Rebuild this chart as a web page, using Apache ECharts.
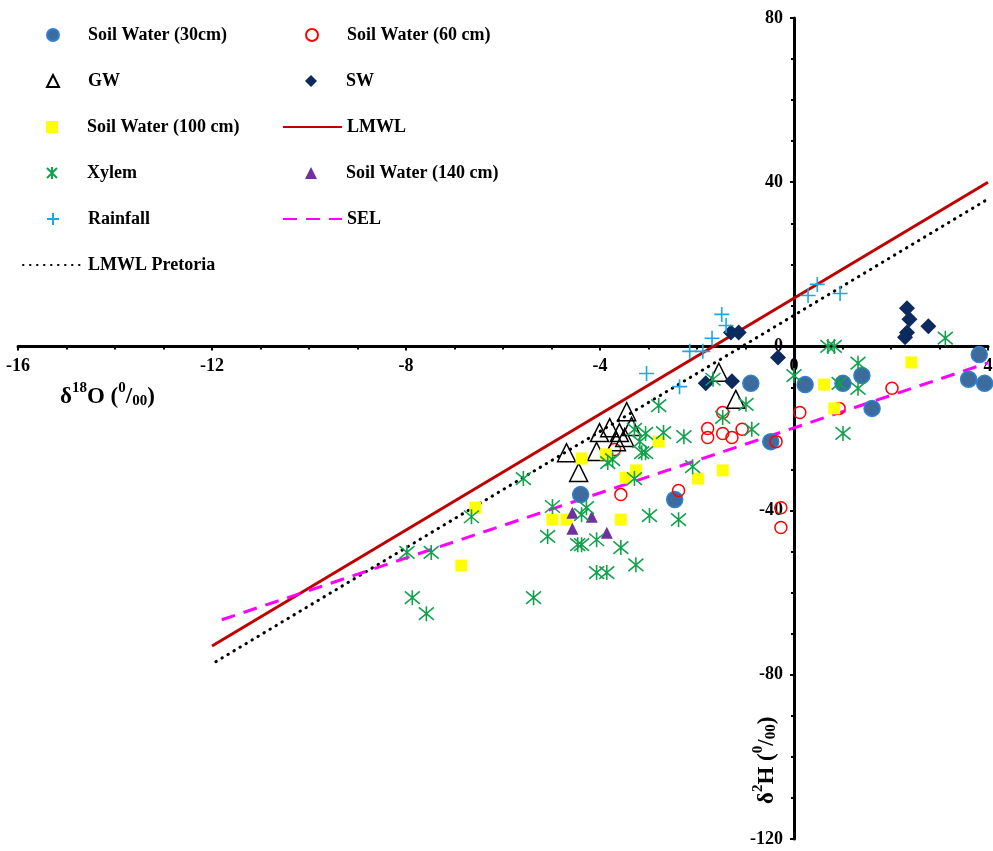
<!DOCTYPE html>
<html><head><meta charset="utf-8">
<script src="https://cdn.jsdelivr.net/npm/echarts@6/dist/echarts.min.js"></script>
<style>html,body{margin:0;padding:0;background:#fff}#c{width:993px;height:851px}</style>
</head><body><div id="c"></div>
<script>
// Data (δ18O, δ2H)
const soil30 = [[-4.40,-36.1],[-2.46,-37.3],[-0.89,-9.0],[-0.48,-23.2],[0.23,-9.3],[1.01,-9.0],[1.40,-7.1],[1.61,-15.1],[3.60,-8.0],[3.82,-2.0],[3.93,-9.0]];
const soil60 = [[-3.57,-36.1],[-2.38,-35.1],[-3.70,-25.1],[-1.47,-16.1],[-1.78,-20.0],[-1.78,-22.2],[-1.47,-21.2],[-1.28,-22.2],[-1.07,-20.2],[-0.37,-23.2],[0.12,-16.1],[0.93,-15.1],[2.02,-10.2],[-0.27,-39.3],[-0.27,-44.1]];
const gw = [[-3.45,-15.9],[-3.80,-19.8],[-4.01,-21.0],[-4.69,-25.9],[-4.44,-30.7],[-4.07,-25.6],[-3.60,-21.0],[-3.66,-23.2],[-3.49,-22.2],[-3.35,-19.5],[-1.55,-6.3],[-1.20,-12.9]];
const sw = [[2.33,9.3],[2.38,6.6],[2.33,3.4],[2.29,2.2],[2.77,4.9],[-1.30,3.4],[-1.14,3.4],[-0.33,-2.7],[-1.82,-9.0],[-1.28,-8.5]];
const soil100 = [[-6.57,-39.3],[-6.86,-53.4],[-4.98,-42.2],[-4.69,-42.2],[-4.38,-27.3],[-3.88,-26.3],[-3.57,-42.2],[-3.47,-32.0],[-3.26,-30.2],[-2.79,-23.2],[-1.98,-32.2],[-1.47,-30.2],[0.62,-9.3],[0.83,-15.1],[2.42,-3.9]];
const xylem = [[-7.98,-50.2],[-7.48,-50.2],[-7.87,-61.2],[-7.58,-65.1],[-6.65,-41.5],[-5.58,-32.2],[-5.37,-61.2],[-4.98,-39.0],[-5.08,-46.3],[-4.38,-41.0],[-4.28,-39.3],[-4.46,-48.3],[-4.38,-48.3],[-4.07,-47.1],[-3.57,-49.0],[-3.26,-53.2],[-4.07,-55.1],[-3.86,-55.1],[-2.98,-41.2],[-2.38,-42.2],[-3.84,-28.3],[-3.74,-27.6],[-3.29,-32.2],[-3.14,-25.9],[-3.06,-25.9],[-3.18,-23.2],[-3.29,-20.2],[-3.06,-21.2],[-2.69,-21.0],[-2.27,-22.0],[-2.79,-14.4],[-2.09,-29.3],[-1.67,-8.0],[-1.47,-17.3],[-0.99,-14.1],[-0.87,-20.2],[0.0,-7.1],[0.70,0.0],[0.83,0.0],[1.32,-4.1],[0.93,-9.0],[1.32,-10.2],[1.01,-21.2],[3.12,2.0]];
const soil140 = [[-4.57,-40.5],[-4.17,-41.5],[-4.57,-44.4],[-3.86,-45.4]];
const rainfall = [[-1.49,7.8],[-1.40,5.1],[-1.69,2.0],[-2.15,-1.2],[-1.88,-1.2],[0.29,12.4],[0.48,15.1],[0.95,12.9],[-3.04,-6.6],[-2.36,-9.8]];
const lmwl = [[-12,-73],[4,40]];
const pretoria = [[-11.92,-76.8],[4,35.9]];
const sel = [[-11.8,-66.6],[4,-4]];
const xTicks = [-16,-12,-8,-4,0,4];
const yTicks = [-120,-80,-40,0,40,80];

const FONT = 'Liberation Serif';
const W = 993, H = 851;
const G = {left: 18, right: 5, top: 18, bottom: 12};
const gw_px = W - G.left - G.right, gh_px = H - G.top - G.bottom;
const xMin = xTicks[0], xMax = xTicks[xTicks.length-1];
const yMin = yTicks[0], yMax = yTicks[yTicks.length-1];
// shift axes so they cross at the origin
const xAxisOffset = -gh_px * (0 - yMin) / (yMax - yMin);
const yAxisOffset = -gw_px * (0 - xMin) / (xMax - xMin);

const chart = echarts.init(document.getElementById('c'));
const axisCommon = {
  type: 'value',
  splitLine: {show: false},
  axisLine: {onZero: false, lineStyle: {color: '#000', width: 3}},
  axisTick: {show: true, length: 4, lineStyle: {color: '#000', width: 2}},
  minorTick: {show: true, splitNumber: 4, length: 3, lineStyle: {color: '#000', width: 2}},
  axisLabel: {color: '#000', fontFamily: FONT, fontWeight: 'bold', fontSize: 18, margin: 11}
};
const asterisk = 'path://M0,0L10,10M10,0L0,10M5,-1L5,11';
const plus = 'path://M5,0L5,10M0,5L10,5';
const legendText = {color: '#000', fontFamily: FONT, fontWeight: 'bold', fontSize: 18};
function lg(name, left, row, w) {
  return {left: left, top: 26 + 46 * row, padding: 0, itemWidth: w, itemHeight: 12, selectedMode: false,
    textStyle: Object.assign({}, legendText, w < 20 ? {padding: [0, 0, 0, 24]} : {}), data: [name]};
}
const nameRich = {
  n: {fontFamily: FONT, fontWeight: 'bold', fontSize: 23, fill: '#000', lineHeight: 28, verticalAlign: 'bottom'},
  sup: {fontFamily: FONT, fontWeight: 'bold', fontSize: 15, fill: '#000', lineHeight: 28, verticalAlign: 'top'},
  sub: {fontFamily: FONT, fontWeight: 'bold', fontSize: 15, fill: '#000', lineHeight: 23, verticalAlign: 'bottom'}
};
const hideSym = {color: 'rgba(0,0,0,0)', borderWidth: 0};

chart.setOption({
  animation: false,
  backgroundColor: '#fff',
  grid: {left: G.left, right: G.right, top: G.top, bottom: G.bottom, containLabel: false, outerBoundsMode: 'none'},
  xAxis: Object.assign({}, axisCommon, {min: xMin, max: xMax, interval: 4, position: 'bottom', offset: xAxisOffset}),
  yAxis: Object.assign({}, axisCommon, {min: yMin, max: yMax, interval: 40, position: 'left', offset: yAxisOffset}),
  legend: [
    lg('Soil Water (30cm)', 46, 0, 12),
    lg('GW', 46, 1, 12),
    lg('Soil Water (100 cm)', 46, 2, 12),
    lg('Xylem', 46, 3, 12),
    lg('Rainfall', 46, 4, 12),
    lg('LMWL Pretoria', 22, 5, 60),
    lg('Soil Water (60 cm)', 305, 0, 12),
    lg('SW', 305, 1, 12),
    lg('LMWL', 282, 2, 59),
    lg('Soil Water (140 cm)', 305, 3, 12),
    lg('SEL', 282, 4, 59)
  ],
  graphic: [
    {type: 'text', left: 60, top: 381, style: {rich: nameRich,
      text: '{n|δ}{sup|18}{n|O (}{sup|0}{n|/}{sub|00}{n|)}'}},
    {type: 'text', x: 751, y: 804, rotation: Math.PI / 2, style: {rich: nameRich,
      text: '{n|δ}{sup|2}{n|H (}{sup|0}{n|/}{sub|00}{n|)}'}}
  ],
  series: [
    {name: 'LMWL', type: 'line', data: lmwl, symbol: 'none', z: 1, lineStyle: {color: '#C00000', width: 3}, itemStyle: hideSym},
    {name: 'LMWL Pretoria', type: 'line', data: pretoria, symbol: 'none', z: 1, lineStyle: {color: '#000', width: 3, type: [0.5, 6.5], cap: 'round'}, itemStyle: hideSym},
    {name: 'SEL', type: 'line', data: sel, symbol: 'none', z: 1, lineStyle: {color: '#FF00FF', width: 3, type: [14, 9]}, itemStyle: hideSym},
    {name: 'Soil Water (30cm)', type: 'scatter', data: soil30, symbol: 'circle', symbolSize: 16, z: 3,
     itemStyle: {color: '#3D6B9E', borderColor: '#2F80D0', borderWidth: 1.5, opacity: 1}},
    {name: 'Soil Water (60 cm)', type: 'scatter', data: soil60, symbol: 'circle', symbolSize: 12, z: 3,
     itemStyle: {color: 'rgba(255,255,255,0)', borderColor: '#FF0000', borderWidth: 1.5, opacity: 1}},
    {name: 'GW', type: 'scatter', data: gw, symbol: 'triangle', symbolSize: 18, z: 3,
     itemStyle: {color: 'rgba(255,255,255,0)', borderColor: '#000', borderWidth: 1.5, opacity: 1}},
    {name: 'SW', type: 'scatter', data: sw, symbol: 'diamond', symbolSize: 16, z: 3,
     itemStyle: {color: '#0D2A5E', opacity: 1}},
    {name: 'Soil Water (100 cm)', type: 'scatter', data: soil100, symbol: 'rect', symbolSize: 12, z: 3,
     itemStyle: {color: '#FFFF00', opacity: 1}},
    {name: 'Xylem', type: 'scatter', data: xylem, symbol: asterisk, symbolSize: 15, z: 4,
     itemStyle: {color: 'rgba(0,0,0,0)', borderColor: '#12A24E', borderWidth: 1.6, opacity: 1}},
    {name: 'Soil Water (140 cm)', type: 'scatter', data: soil140, symbol: 'triangle', symbolSize: 12, z: 3,
     itemStyle: {color: '#7030A0', opacity: 1}},
    {name: 'Rainfall', type: 'scatter', data: rainfall, symbol: plus, symbolSize: 15, z: 3,
     itemStyle: {color: 'rgba(0,0,0,0)', borderColor: '#1BA8E6', borderWidth: 1.6, opacity: 1}}
  ]
});
</script>
</body></html>
